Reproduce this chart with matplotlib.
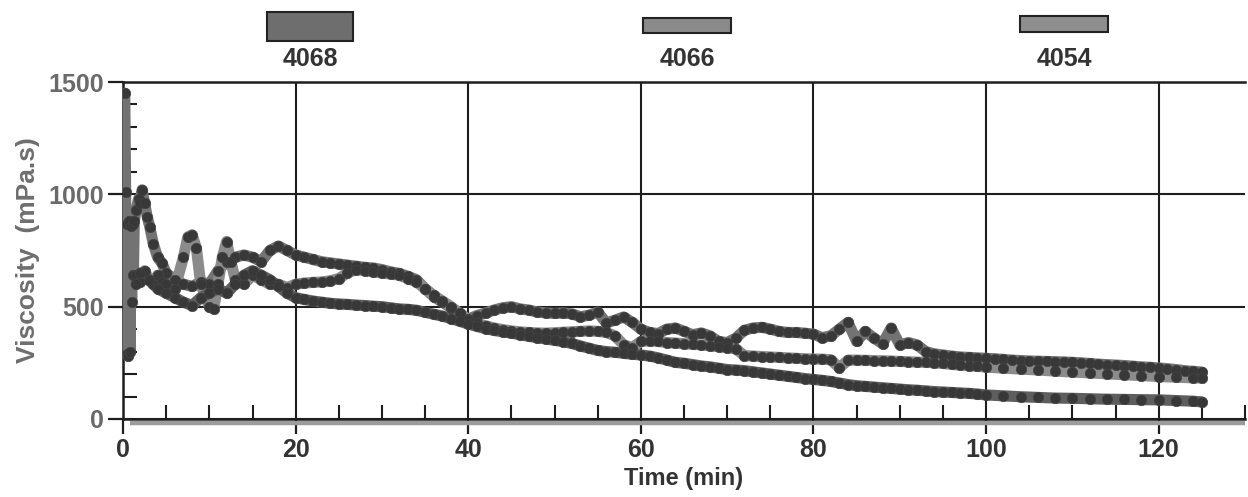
import matplotlib
matplotlib.use("Agg")
import matplotlib.pyplot as plt
from matplotlib.patches import Rectangle
from matplotlib.ticker import MultipleLocator

plt.rcParams["font.family"] = ["Liberation Sans", "DejaVu Sans"]
plt.rcParams["font.weight"] = "bold"

# ---- data (time in min, viscosity in mPa.s) ----
t_4068 = [0.2, 0.3, 0.4, 0.5, 0.6, 0.7, 0.8, 0.9, 1.0, 1.1, 1.2, 1.3, 1.5, 1.8,
          2.0, 2.2, 2.5, 2.8, 3.1, 3.5, 4.0, 4.5, 5, 6, 7, 8, 9, 10, 11, 12, 13,
          14, 15, 16, 17, 18, 19, 20, 21, 22, 23, 24, 25, 26, 27, 28, 29, 30,
          31, 32, 33, 34, 35, 36, 37, 38, 39, 40, 41, 42, 43, 44, 45, 46, 47,
          48, 49, 50, 51, 52, 53, 54, 55, 56, 57, 58, 59, 60, 61, 62, 63, 64,
          65, 66, 67, 68, 69, 70, 71, 72, 73, 74, 75, 76, 77, 78, 79, 80, 81,
          82, 83, 84, 85, 86, 87, 88, 89, 90, 91, 92, 93, 94, 95, 96, 97, 98,
          99, 100, 101, 102, 103, 104, 105, 106, 107, 108, 109, 110, 111, 112,
          113, 114, 115, 116, 117, 118, 119, 120, 121, 122, 123, 124, 125]
v_4068 = [1450, 1010, 290, 870, 280, 880, 300, 860, 520, 870, 640, 880, 930, 980,
          960, 1020, 960, 900, 855, 780, 720, 694, 650, 620, 600, 590, 610, 600,
          660, 700, 720, 730, 720, 700, 750, 770, 750, 730, 720, 710, 700, 695,
          690, 685, 680, 675, 672, 665, 655, 648, 635, 620, 580, 545, 520, 495,
          470, 445, 460, 472, 485, 495, 500, 490, 485, 476, 472, 470, 472, 468,
          455, 462, 476, 427, 440, 454, 430, 400, 385, 380, 400, 405, 390, 375,
          383, 370, 345, 340, 360, 395, 405, 408, 400, 390, 385, 385, 382, 378,
          362, 370, 400, 430, 345, 390, 360, 335, 405, 330, 340, 330, 300, 290,
          285, 280, 276, 274, 272, 270, 268, 265, 262, 260, 258, 257, 256, 255,
          254, 252, 250, 247, 244, 242, 240, 238, 235, 232, 230, 227, 224, 220,
          215, 212, 209]

t_4066 = [1.5, 2.0, 2.5, 3.0, 3.5, 4.0, 4.5, 5.0, 6.0, 7.0, 7.5, 8.0, 8.5, 9.0,
          10.0, 10.5, 11.0, 11.5, 12.0, 12.5, 13.0, 14.0, 15.0, 16.0, 17.0, 18,
          19, 20, 21, 22, 23, 24, 25, 26, 27, 28, 29, 30, 31, 32, 33, 34, 35,
          36, 37, 38, 39, 40, 41, 42, 43, 44, 45, 46, 47, 48, 49, 50, 51, 52,
          53, 54, 55, 56, 57, 58, 59, 60, 61, 62, 63, 64, 65, 66, 67, 68, 69,
          70, 71, 72, 73, 74, 75, 76, 77, 78, 79, 80, 81, 82, 83, 84, 85, 86,
          87, 88, 89, 90, 91, 92, 93, 94, 95, 96, 97, 98, 99, 100, 102, 104,
          106, 108, 110, 112, 114, 116, 118, 120, 122, 124, 125]
v_4066 = [640, 610, 660, 620, 600, 640, 610, 600, 580, 720, 810, 820, 760, 600,
          500, 490, 600, 720, 790, 700, 620, 600, 640, 620, 600, 600, 585, 600,
          605, 608, 610, 615, 625, 650, 665, 660, 655, 650, 645, 640, 625, 610,
          580, 550, 525, 500, 470, 440, 425, 415, 405, 398, 392, 388, 385, 383,
          382, 384, 386, 388, 390, 392, 390, 385, 370, 330, 318, 345, 348, 345,
          340, 338, 335, 332, 330, 325, 322, 318, 312, 282, 280, 278, 276, 274,
          272, 270, 268, 267, 266, 264, 228, 262, 262, 261, 260, 259, 258, 256,
          255, 253, 252, 250, 247, 243, 240, 237, 234, 231, 226, 222, 218, 213,
          209, 205, 201, 197, 193, 189, 186, 183, 182]

t_4054 = [1.5, 2, 3, 4, 5, 6, 7, 8, 9, 10, 11, 12, 13, 14, 15, 16, 17, 18, 19,
          20, 21, 22, 23, 24, 25, 26, 27, 28, 29, 30, 31, 32, 33, 34, 35, 36,
          37, 38, 39, 40, 41, 42, 43, 44, 45, 46, 47, 48, 49, 50, 51, 52, 53,
          54, 55, 56, 57, 58, 59, 60, 61, 62, 63, 64, 65, 66, 67, 68, 69, 70,
          71, 72, 73, 74, 75, 76, 77, 78, 79, 80, 81, 82, 83, 84, 85, 86, 87,
          88, 89, 90, 91, 92, 93, 94, 95, 96, 97, 98, 99, 100, 102, 104, 106,
          108, 110, 112, 114, 116, 118, 120, 122, 124, 125]
v_4054 = [600, 650, 620, 580, 560, 540, 520, 505, 540, 560, 580, 560, 600, 640,
          660, 640, 620, 590, 560, 540, 532, 525, 520, 515, 512, 510, 507, 505,
          502, 500, 495, 490, 488, 484, 475, 466, 458, 447, 435, 423, 412, 402,
          394, 388, 382, 375, 368, 362, 356, 350, 344, 336, 325, 315, 305, 300,
          297, 292, 288, 285, 280, 272, 262, 252, 248, 242, 236, 232, 226, 220,
          218, 215, 210, 205, 200, 195, 190, 185, 180, 176, 172, 167, 160, 153,
          148, 145, 142, 139, 136, 133, 130, 128, 125, 122, 120, 118, 116, 114,
          111, 107, 103, 99, 96, 93, 92, 90, 88, 87, 86, 85, 82, 79, 76]

# gray bar drawn just under the time axis
t_base = [0.8, 130]
v_base = [-20, -20]

series = [
    ("4068", t_4068, v_4068, "#737373"),
    ("4066", t_4066, v_4066, "#8b8b8b"),
    ("4054", t_4054, v_4054, "#5e5e5e"),
]

fig = plt.figure(figsize=(12.48, 4.97), dpi=100)
ax = fig.add_axes([0.0986, 0.157, 0.899, 0.678])

for name, t, v, col in series:
    ax.plot(t, v, "-", color=col, lw=8, solid_capstyle="round",
            solid_joinstyle="round", zorder=3)
    ax.plot(t, v, "o", ls="none", ms=7.5, mfc="#383838", mec="#444444",
            mew=0.5, zorder=4)

ax.plot(t_base, v_base, color="#9c9c9c", lw=3.2, clip_on=False, zorder=2,
        solid_capstyle="butt")

ax.set_xlim(0, 130)
ax.set_ylim(0, 1500)
ax.xaxis.set_major_locator(MultipleLocator(20))
ax.xaxis.set_minor_locator(MultipleLocator(5))
ax.yaxis.set_major_locator(MultipleLocator(500))
ax.yaxis.set_minor_locator(MultipleLocator(100))

ax.set_axisbelow(True)
ax.grid(True, which="major", color="#1e1e1e", lw=1.5)

ax.tick_params(which="major", direction="out", length=11, width=1.6,
               color="#1e1e1e", labelsize=18, pad=3)
ax.tick_params(which="minor", direction="in", length=10, width=1.5,
               color="#1e1e1e")
ax.tick_params(axis="y", which="major", labelcolor="#6a6a6a")
ax.tick_params(axis="x", which="major", labelcolor="#333333")
ax.tick_params(top=False, right=False, which="both")

for side in ["left", "bottom", "top"]:
    ax.spines[side].set_linewidth(1.8)
    ax.spines[side].set_color("#1e1e1e")
ax.spines["right"].set_visible(False)

ax.set_xlabel("Time (min)", fontsize=17, fontweight="bold", color="#333333",
              labelpad=3)
ax.set_ylabel("Viscosity  (mPa.s)", fontsize=19, fontweight="bold",
              color="#6e6e6e", labelpad=6)

# legend boxes above the plot
boxes = [
    ("4068", 267, 12, 86, 29, "#6e6e6e", 310),
    ("4066", 643, 18, 88, 15, "#8a8a8a", 687),
    ("4054", 1020, 16, 88, 16, "#8e8e8e", 1064),
]
W, H = 1248, 497
for name, x0, y0, w, h, col, xc in boxes:
    fig.patches.append(Rectangle((x0 / W, 1 - (y0 + h) / H), w / W, h / H,
                                 transform=fig.transFigure, facecolor=col,
                                 edgecolor="#222222", lw=1.5))
    fig.text(xc / W, 1 - 59 / H, name, ha="center", va="center",
             fontsize=18, color="#333333")

fig.savefig("out.png", dpi=100)
